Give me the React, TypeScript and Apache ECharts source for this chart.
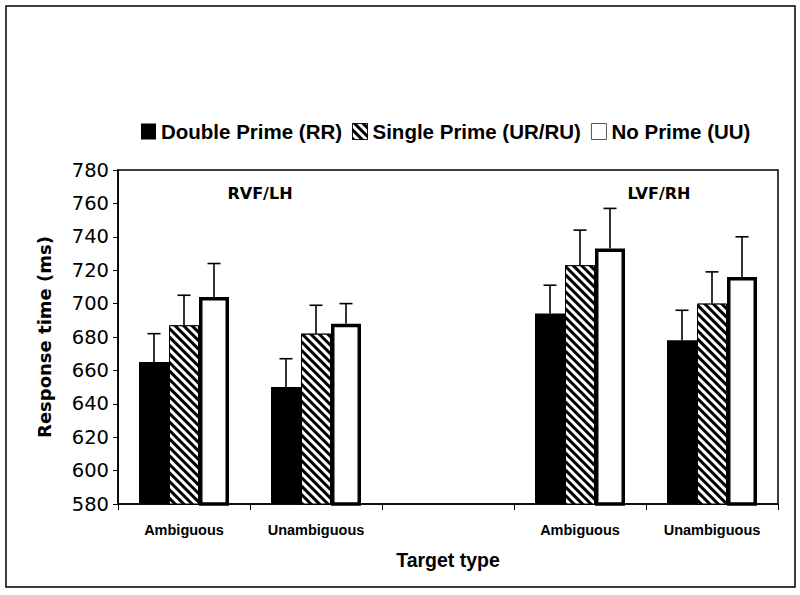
import React, { useEffect, useRef } from 'react';
import * as echarts from 'echarts';

const categories = ['Ambiguous', 'Unambiguous', '', 'Ambiguous', 'Unambiguous'];
const seriesNames = ['Double Prime (RR)', 'Single Prime (UR/RU)', 'No Prime (UU)'];
const doublePrime = [665, 650, null, 694, 678];
const singlePrime = [687, 682, null, 723, 700];
const noPrime = [704, 688, null, 733, 716];
const doubleErr = [17, 17, null, 17, 18];
const singleErr = [18, 17, null, 21, 19];
const noErr = [20, 12, null, 24, 24];
const yMin = 580;
const yMax = 780;
const yStep = 20;
const panelLabels = ['RVF/LH', 'LVF/RH'];
const xTitle = 'Target type';
const yTitle = 'Response time (ms)';

const makeErr = (vals: (number | null)[], errs: (number | null)[], offset: number) => ({
  type: 'custom',
  z: 1,
  silent: true,
  encode: { x: 0, y: 1 },
  data: vals
    .map((v, i) => (v == null ? null : [i, v, errs[i]]))
    .filter((d) => d != null),
  renderItem: (params: any, api: any) => {
    const x = api.value(0);
    const v = api.value(1);
    const e = api.value(2);
    const p0 = api.coord([x, v]);
    const p1 = api.coord([x, v + e]);
    const cx = p0[0] + offset;
    return {
      type: 'group',
      children: [
        { type: 'line', shape: { x1: cx, y1: p0[1], x2: cx, y2: p1[1] }, style: { stroke: '#000', lineWidth: 1.6 } },
        { type: 'line', shape: { x1: cx - 6.5, y1: p1[1], x2: cx + 6.5, y2: p1[1] }, style: { stroke: '#000', lineWidth: 1.6 } },
      ],
    };
  },
});

export default function App() {
  const ref = useRef<HTMLDivElement>(null);
  useEffect(() => {
    if (!ref.current) return;
    const chart = echarts.init(ref.current, null, { renderer: 'svg' });
    const barBase = {
      type: 'bar',
      barWidth: 30,
      barGap: '0%',
      z: 2,
    };
    chart.setOption({
      animation: false,
      backgroundColor: '#fff',
      legend: {
        data: [
          { name: seriesNames[0] },
          { name: seriesNames[1], itemStyle: { borderWidth: 0.8 } },
          { name: seriesNames[2], itemStyle: { borderWidth: 1, borderColor: '#555' } },
        ],
        icon: 'rect',
        left: 136,
        top: 116,
        itemWidth: 15,
        itemHeight: 16,
        itemGap: 10,
        textStyle: { fontFamily: 'Liberation Sans', fontWeight: 'bold', fontSize: 20.5, color: '#000' },
      },
      grid: {
        left: 118,
        right: 22,
        top: 170,
        bottom: 91,
        show: true,
        borderColor: '#000',
        borderWidth: 1.5,
      },
      xAxis: {
        type: 'category',
        data: categories,
        name: xTitle,
        nameLocation: 'middle',
        nameGap: 46,
        nameTextStyle: { fontFamily: 'Liberation Sans', fontWeight: 'bold', fontSize: 19.5, color: '#000' },
        axisLine: { lineStyle: { color: '#000', width: 1.5 } },
        axisTick: { show: true, length: 6, lineStyle: { color: '#000' } },
        axisLabel: { margin: 18, fontFamily: 'Liberation Sans', fontWeight: 'bold', fontSize: 14.5, color: '#000' },
      },
      yAxis: {
        type: 'value',
        min: yMin,
        max: yMax,
        interval: yStep,
        name: yTitle,
        nameLocation: 'middle',
        nameGap: 65,
        nameTextStyle: { fontFamily: 'DejaVu Sans', fontWeight: 'bold', fontSize: 18, color: '#000' },
        splitLine: { show: false },
        axisLine: { show: true, lineStyle: { color: '#000', width: 1.5 } },
        axisTick: { show: true, length: 5, lineStyle: { color: '#000' } },
        axisLabel: { margin: 9, fontFamily: 'DejaVu Sans', fontSize: 19.5, color: '#000' },
      },
      graphic: [
        {
          type: 'rect',
          shape: { x: 6, y: 6, width: 789, height: 581 },
          style: { fill: 'none', stroke: '#000', lineWidth: 1.5 },
          z: 10,
        },
        {
          type: 'text',
          x: 260,
          y: 193,
          style: { text: panelLabels[0], fontFamily: 'DejaVu Sans', fontWeight: 'bold', fontSize: 16, fill: '#000', align: 'center', verticalAlign: 'middle' },
        },
        {
          type: 'text',
          x: 659,
          y: 193,
          style: { text: panelLabels[1], fontFamily: 'DejaVu Sans', fontWeight: 'bold', fontSize: 16, fill: '#000', align: 'center', verticalAlign: 'middle' },
        },
      ],
      series: [
        {
          ...barBase,
          name: seriesNames[0],
          data: doublePrime,
          itemStyle: { color: '#000' },
        },
        {
          ...barBase,
          name: seriesNames[1],
          data: singlePrime,
          itemStyle: {
            color: '#000',
            borderColor: '#000',
            borderWidth: 1,
            decal: {
              symbol: 'rect',
              symbolSize: 1,
              color: '#fff',
              dashArrayX: [1, 0],
              dashArrayY: [2.2, 2.2],
              rotation: Math.PI / 4,
            },
          },
        },
        {
          ...barBase,
          name: seriesNames[2],
          data: noPrime,
          itemStyle: { color: '#fff', borderColor: '#000', borderWidth: 3.5 },
        },
        makeErr(doublePrime, doubleErr, -30),
        makeErr(singlePrime, singleErr, 0),
        makeErr(noPrime, noErr, 30),
      ],
    });
    return () => chart.dispose();
  }, []);
  return <div ref={ref} style={{ position: 'absolute', left: 0, top: 0, width: 800, height: 595 }} />;
}
